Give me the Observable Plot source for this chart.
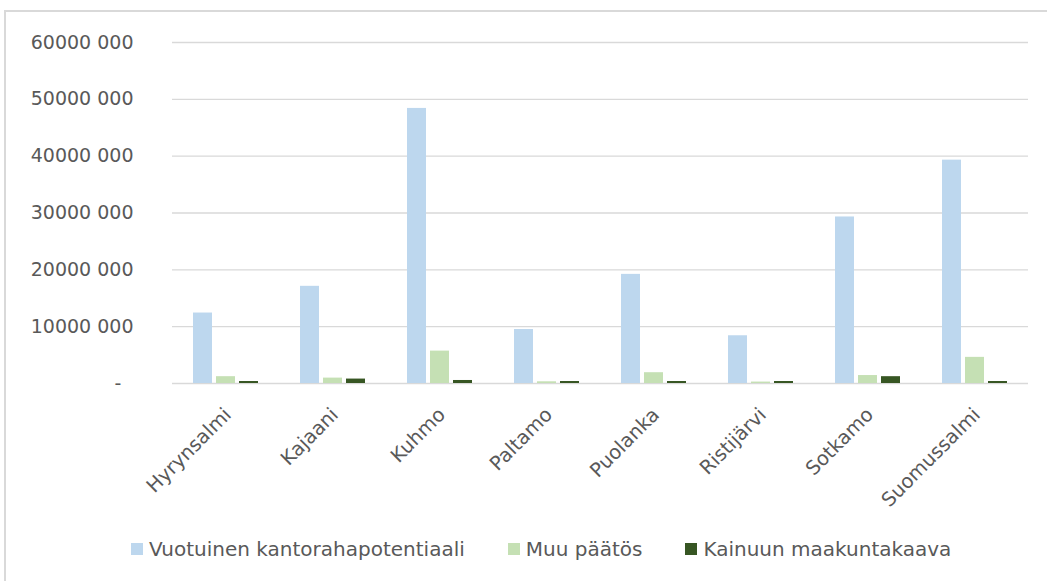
<!DOCTYPE html>
<html>
<head>
<meta charset="utf-8">
<script src="https://cdn.jsdelivr.net/npm/d3@7"></script>
<script src="https://cdn.jsdelivr.net/npm/@observablehq/plot@0.6"></script>
<style>
  html, body { margin: 0; padding: 0; background: #fff; }
  body { width: 1047px; height: 581px; position: relative; overflow: hidden; font-family: "DejaVu Sans", sans-serif; }
  #frame { position: absolute; left: 4px; top: 10px; right: 0; bottom: 0; border-top: 2px solid #d9d9d9; border-left: 2px solid #d9d9d9; }
  #chart { position: absolute; left: 0; top: 0; }
  #legend { position: absolute; left: 131px; top: 537px; display: flex; align-items: center; font-size: 20px; color: #595959; white-space: nowrap; }
  #legend .item { display: flex; align-items: center; margin-right: 43px; }
  #legend .sw { width: 12px; height: 12px; margin-right: 6px; }
</style>
</head>
<body>
<div id="frame"></div>
<div id="chart"></div>
<div id="legend"></div>
<script>
const categories = ["Hyrynsalmi", "Kajaani", "Kuhmo", "Paltamo", "Puolanka", "Ristijärvi", "Sotkamo", "Suomussalmi"];
const seriesNames = ["Vuotuinen kantorahapotentiaali", "Muu päätös", "Kainuun maakuntakaava"];
const seriesColors = ["#bdd7ee", "#c5e0b4", "#375623"];
const vuotuinen = [12400000, 17100000, 48400000, 9500000, 19200000, 8400000, 29300000, 39300000];
const muuPaatos = [1200000, 950000, 5700000, 300000, 1900000, 250000, 1400000, 4600000];
const maakuntakaava = [350000, 780000, 530000, 350000, 350000, 350000, 1200000, 350000];
const yTicks = [0, 10000000, 20000000, 30000000, 40000000, 50000000, 60000000];

const seriesValues = [vuotuinen, muuPaatos, maakuntakaava];
const data = [];
categories.forEach((c, i) => {
  seriesNames.forEach((s, j) => data.push({category: c, series: s, value: seriesValues[j][i]}));
});

const fmt = d => d === 0 ? "-\u00a0\u00a0" : `${d / 1000} 000`;

const chart = Plot.plot({
  width: 1047,
  height: 520,
  marginLeft: 170,
  marginRight: 17,
  marginTop: 42,
  marginBottom: 137,
  style: {fontFamily: "DejaVu Sans, sans-serif", fontSize: "19px", color: "#595959", background: "transparent"},
  fx: {domain: categories, padding: 0, label: null},
  x: {domain: seriesNames, paddingInner: 0.19, paddingOuter: 0.88, axis: null},
  y: {domain: [0, 60000000], label: null, axis: null},
  color: {domain: seriesNames, range: seriesColors},
  marks: [
    Plot.ruleY(yTicks, {stroke: "#d9d9d9", strokeWidth: 1.3}),
    Plot.axisY({anchor: "left", ticks: yTicks, tickFormat: fmt, tickSize: 0, tickPadding: 39, label: null, fontSize: 19}),
    Plot.axisFx({anchor: "bottom", tickRotate: -45, tickSize: 0, tickPadding: 12, dy: 16, dx: 2, label: null, fontSize: 19.5}),
    Plot.barY(data, {fx: "category", x: "series", y: "value", fill: "series"})
  ]
});
document.getElementById("chart").appendChild(chart);

const legend = document.getElementById("legend");
seriesNames.forEach((s, i) => {
  const item = document.createElement("div");
  item.className = "item";
  const sw = document.createElement("div");
  sw.className = "sw";
  sw.style.background = seriesColors[i];
  const t = document.createElement("span");
  t.textContent = s;
  item.appendChild(sw);
  item.appendChild(t);
  legend.appendChild(item);
});
</script>
</body>
</html>
